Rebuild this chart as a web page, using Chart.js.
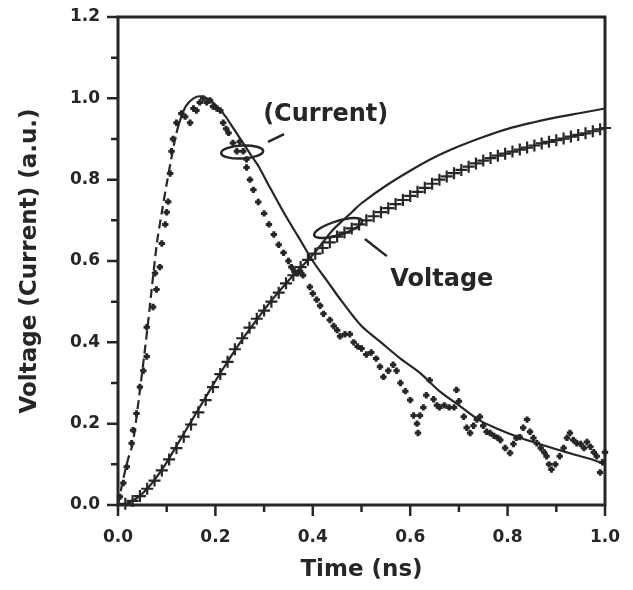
<!DOCTYPE html>
<html>
<head>
<meta charset="utf-8">
<script src="https://cdn.jsdelivr.net/npm/chart.js@4.4.1/dist/chart.umd.min.js"></script>
<style>
  html, body { margin: 0; padding: 0; background: #fff; }
  #wrap { width: 633px; height: 590px; position: relative; }
</style>
</head>
<body>
<div id="wrap"><canvas id="myChart"></canvas></div>
<script>
// Measured current (filled dots)
const currentT = [0.004, 0.011, 0.018, 0.028, 0.031, 0.038, 0.045, 0.052, 0.059, 0.059, 0.072, 0.079, 0.076, 0.086, 0.09,
    0.097, 0.10, 0.103, 0.107, 0.11, 0.113, 0.12, 0.13, 0.138, 0.148, 0.155, 0.161, 0.168, 0.175, 0.182, 0.189, 0.195,
    0.203, 0.21, 0.216, 0.222, 0.227, 0.236, 0.244, 0.25, 0.257, 0.264, 0.264, 0.271, 0.278, 0.288, 0.30, 0.31, 0.32,
    0.33, 0.34, 0.35, 0.356, 0.362, 0.368, 0.374, 0.38, 0.394, 0.40, 0.408, 0.415, 0.422, 0.435, 0.443, 0.45, 0.456,
    0.466, 0.476, 0.484, 0.492, 0.50, 0.51, 0.52, 0.53, 0.538, 0.545, 0.555, 0.565, 0.572, 0.58, 0.59, 0.60, 0.607,
    0.614, 0.616, 0.62, 0.627, 0.633, 0.64, 0.648, 0.655, 0.66, 0.67, 0.68, 0.69, 0.695, 0.70, 0.71, 0.716, 0.723,
    0.73, 0.737, 0.743, 0.75, 0.757, 0.764, 0.772, 0.78, 0.785, 0.795, 0.805, 0.812, 0.818, 0.825, 0.832, 0.84, 0.846,
    0.853, 0.86, 0.868, 0.875, 0.88, 0.885, 0.89, 0.898, 0.907, 0.915, 0.922, 0.928, 0.935, 0.942, 0.95, 0.957, 0.963,
    0.97, 0.977, 0.983, 0.99, 0.995, 1.0];
const currentV = [0.02, 0.054, 0.094, 0.152, 0.184, 0.225, 0.29, 0.33, 0.365, 0.437, 0.487, 0.53, 0.57, 0.585, 0.643,
    0.69, 0.72, 0.746, 0.815, 0.87, 0.90, 0.94, 0.963, 0.955, 0.94, 0.975, 0.97, 0.99, 1.0, 0.99, 0.995, 0.98,
    0.975, 0.97, 0.94, 0.925, 0.915, 0.89, 0.87, 0.893, 0.87, 0.85, 0.83, 0.80, 0.775, 0.745, 0.717, 0.69, 0.665,
    0.64, 0.62, 0.60, 0.585, 0.575, 0.57, 0.575, 0.565, 0.536, 0.52, 0.505, 0.49, 0.47, 0.455, 0.44, 0.43, 0.415,
    0.42, 0.42, 0.40, 0.39, 0.385, 0.37, 0.375, 0.36, 0.34, 0.315, 0.33, 0.345, 0.33, 0.30, 0.28, 0.258, 0.22,
    0.20, 0.177, 0.22, 0.24, 0.27, 0.307, 0.26, 0.245, 0.24, 0.245, 0.24, 0.24, 0.283, 0.255, 0.217, 0.19, 0.177,
    0.195, 0.21, 0.217, 0.195, 0.18, 0.177, 0.17, 0.165, 0.16, 0.14, 0.128, 0.15, 0.165, 0.167, 0.19, 0.21, 0.18,
    0.165, 0.152, 0.14, 0.13, 0.12, 0.10, 0.087, 0.10, 0.12, 0.14, 0.165, 0.177, 0.16, 0.152, 0.15, 0.14, 0.155,
    0.143, 0.13, 0.12, 0.08, 0.105, 0.13];

// Fitted current (dashed on the rise, solid after)
const currentFitT = [0, 0.01, 0.02, 0.03, 0.04, 0.05, 0.06, 0.07, 0.08, 0.09, 0.10, 0.11, 0.12, 0.13, 0.14, 0.155,
    0.17, 0.19, 0.216, 0.235, 0.257, 0.275, 0.29, 0.31, 0.34, 0.37, 0.40, 0.43, 0.46, 0.50, 0.54, 0.58, 0.62, 0.66,
    0.70, 0.74, 0.78, 0.82, 0.86, 0.90, 0.94, 0.97, 1.0];
const currentFitV = [0, 0.06, 0.11, 0.15, 0.235, 0.33, 0.43, 0.54, 0.645, 0.72, 0.79, 0.855, 0.915, 0.955, 0.982, 1.0,
    1.005, 0.995, 0.963, 0.93, 0.89, 0.857, 0.83, 0.785, 0.72, 0.66, 0.6, 0.55, 0.50, 0.44, 0.40, 0.36, 0.325, 0.28,
    0.245, 0.21, 0.187, 0.168, 0.152, 0.137, 0.123, 0.113, 0.10];

// Measured voltage (crosses)
const voltageT = [0, 0.015, 0.03, 0.045, 0.06, 0.075, 0.09, 0.105, 0.12, 0.135, 0.15, 0.165, 0.18, 0.195, 0.21, 0.225,
    0.24, 0.255, 0.27, 0.285, 0.30, 0.315, 0.33, 0.345, 0.36, 0.375, 0.39, 0.405, 0.42, 0.435, 0.45, 0.465, 0.48,
    0.495, 0.51, 0.525, 0.54, 0.555, 0.57, 0.585, 0.60, 0.615, 0.63, 0.645, 0.66, 0.675, 0.69, 0.705, 0.72, 0.735,
    0.75, 0.765, 0.78, 0.795, 0.81, 0.825, 0.84, 0.855, 0.87, 0.885, 0.90, 0.915, 0.93, 0.945, 0.96, 0.975, 0.99, 1.0];
const voltageV = [0, 0.003, 0.01, 0.022, 0.04, 0.06, 0.085, 0.112, 0.14, 0.168, 0.198, 0.228, 0.258, 0.29, 0.322, 0.352,
    0.383, 0.41, 0.436, 0.458, 0.478, 0.50, 0.522, 0.545, 0.565, 0.585, 0.603, 0.618, 0.632, 0.646, 0.66, 0.67, 0.68,
    0.69, 0.70, 0.71, 0.72, 0.73, 0.74, 0.75, 0.76, 0.77, 0.78, 0.79, 0.80, 0.808, 0.816, 0.824, 0.832, 0.84,
    0.847, 0.853, 0.859, 0.864, 0.869, 0.874, 0.879, 0.884, 0.889, 0.893, 0.897, 0.901, 0.906, 0.91, 0.914, 0.919, 0.924, 0.927];

// Fitted voltage (solid)
const voltageFitT = [0, 0.02, 0.04, 0.06, 0.08, 0.10, 0.12, 0.14, 0.16, 0.18, 0.20, 0.22, 0.24, 0.26, 0.28, 0.30, 0.32,
    0.34, 0.36, 0.38, 0.40, 0.42, 0.44, 0.46, 0.48, 0.50, 0.55, 0.60, 0.65, 0.70, 0.75, 0.80, 0.85, 0.90, 0.95, 1.0];
const voltageFitV = [0, 0.004, 0.018, 0.04, 0.07, 0.105, 0.145, 0.185, 0.225, 0.265, 0.305, 0.343, 0.38, 0.415, 0.448,
    0.48, 0.51, 0.538, 0.565, 0.59, 0.615, 0.645, 0.675, 0.698, 0.72, 0.742, 0.785, 0.822, 0.855, 0.882, 0.905, 0.925,
    0.94, 0.953, 0.964, 0.975];

const xMajorTicks = [0, 0.2, 0.4, 0.6, 0.8, 1.0];
const xMinorTicks = [0.1, 0.3, 0.5, 0.7, 0.9];
const yMajorTicks = [0, 0.2, 0.4, 0.6, 0.8, 1.0, 1.2];
const yMinorTicks = [0.1, 0.3, 0.5, 0.7, 0.9, 1.1];

const ink = '#262626';
const fontFamily = '"DejaVu Sans", sans-serif';

function toPoints(ts, vs) {
    return ts.map((t, i) => ({ x: t, y: vs[i] }));
}

// box, outward ticks and the hand-drawn annotations
const framePlugin = {
    id: 'frame',
    afterDatasetsDraw(chart) {
        const { ctx, scales: { x, y } } = chart;
        const px = t => x.getPixelForValue(t);
        const py = v => y.getPixelForValue(v);
        ctx.save();
        ctx.strokeStyle = ink;
        ctx.fillStyle = ink;
        ctx.lineWidth = 2.5;

        ctx.beginPath();
        ctx.ellipse(px(0.255), py(0.868), 21, 6.5, -0.05, 0, Math.PI * 2);
        ctx.stroke();
        ctx.beginPath();
        ctx.ellipse(px(0.452), py(0.681), 25, 7, -0.3, 0, Math.PI * 2);
        ctx.stroke();

        ctx.beginPath();
        ctx.moveTo(px(0.308), py(0.893));
        ctx.lineTo(px(0.341), py(0.912));
        ctx.moveTo(px(0.507), py(0.654));
        ctx.lineTo(px(0.552), py(0.612));
        ctx.stroke();

        ctx.font = 'bold 24px ' + fontFamily;
        ctx.textBaseline = 'middle';
        ctx.textAlign = 'left';
        ctx.fillText('(Current)', px(0.298), py(0.959));
        ctx.fillText('Voltage', px(0.559), py(0.553));
        ctx.restore();
    },
    afterDraw(chart) {
        const { ctx, chartArea: a, scales: { x, y } } = chart;
        ctx.save();
        ctx.strokeStyle = ink;
        ctx.lineWidth = 3;
        ctx.strokeRect(a.left, a.top, a.right - a.left, a.bottom - a.top);
        ctx.lineWidth = 2.5;
        ctx.beginPath();
        xMajorTicks.forEach(t => { const p = x.getPixelForValue(t); ctx.moveTo(p, a.bottom); ctx.lineTo(p, a.bottom + 11); });
        xMinorTicks.forEach(t => { const p = x.getPixelForValue(t); ctx.moveTo(p, a.bottom); ctx.lineTo(p, a.bottom + 7); });
        yMajorTicks.forEach(v => { const p = y.getPixelForValue(v); ctx.moveTo(a.left, p); ctx.lineTo(a.left - 11, p); });
        yMinorTicks.forEach(v => { const p = y.getPixelForValue(v); ctx.moveTo(a.left, p); ctx.lineTo(a.left - 7, p); });
        ctx.stroke();
        ctx.restore();
    }
};

const ctx = document.getElementById('myChart').getContext('2d');
new Chart(ctx, {
    type: 'scatter',
    data: {
        datasets: [
            {
                label: 'Current fit',
                data: toPoints(currentFitT, currentFitV),
                showLine: true,
                borderColor: ink,
                borderWidth: 2.2,
                pointRadius: 0,
                tension: 0.3,
                segment: {
                    borderDash: c => c.p0.parsed.x < 0.12 ? [9, 5] : undefined
                }
            },
            {
                label: 'Voltage fit',
                data: toPoints(voltageFitT, voltageFitV),
                showLine: true,
                borderColor: ink,
                borderWidth: 2.2,
                pointRadius: 0,
                tension: 0.3
            },
            {
                label: 'Current',
                data: toPoints(currentT, currentV),
                pointStyle: 'cross',
                pointRadius: 3.2,
                borderWidth: 3,
                borderColor: ink,
                clip: false
            },
            {
                label: 'Voltage',
                data: toPoints(voltageT, voltageV),
                pointStyle: 'cross',
                pointRadius: 6,
                borderWidth: 2.2,
                borderColor: ink,
                clip: false
            }
        ]
    },
    options: {
        responsive: true,
        maintainAspectRatio: false,
        animation: false,
        events: [],
        layout: { padding: { left: 0, right: 28, top: 17, bottom: 0 } },
        plugins: {
            legend: { display: false },
            tooltip: { enabled: false }
        },
        scales: {
            x: {
                type: 'linear',
                min: 0,
                max: 1.0,
                afterFit: s => { s.height = 85; },
                // invisible tick marks only push the labels away from the axis
                grid: { drawOnChartArea: false, drawTicks: true, tickLength: 20, color: 'rgba(0,0,0,0)' },
                border: { display: false },
                ticks: {
                    stepSize: 0.2,
                    padding: 2,
                    color: ink,
                    font: { family: fontFamily, size: 17, weight: 'bold' },
                    callback: v => v.toFixed(1)
                },
                title: {
                    display: true,
                    text: 'Time (ns)',
                    color: ink,
                    font: { family: fontFamily, size: 23, weight: 'bold' },
                    padding: { top: 0, bottom: 6 }
                }
            },
            y: {
                type: 'linear',
                min: 0,
                max: 1.2,
                afterFit: s => { s.width = 118; },
                grid: { drawOnChartArea: false, drawTicks: true, tickLength: 16, color: 'rgba(0,0,0,0)' },
                border: { display: false },
                ticks: {
                    stepSize: 0.2,
                    padding: 2,
                    color: ink,
                    font: { family: fontFamily, size: 17, weight: 'bold' },
                    callback: v => v.toFixed(1)
                },
                title: {
                    display: true,
                    text: 'Voltage (Current) (a.u.)',
                    color: ink,
                    font: { family: fontFamily, size: 23, weight: 'bold' },
                    padding: { top: 16, bottom: 0 }
                }
            }
        }
    },
    plugins: [framePlugin]
});
</script>
</body>
</html>
